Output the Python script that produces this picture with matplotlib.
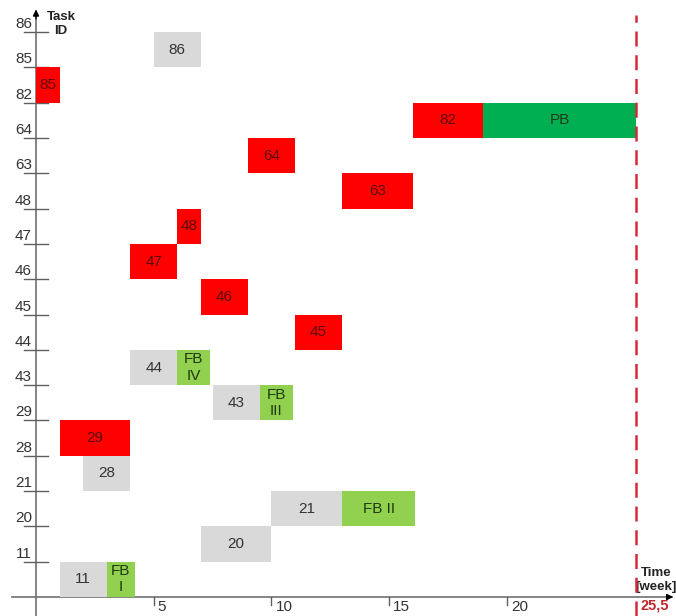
import matplotlib.pyplot as plt

plt.rcParams["font.family"] = ["Liberation Sans", "DejaVu Sans"]

# task ids on the y axis, bottom to top
row_labels = ["11", "20", "21", "28", "29", "43", "44", "45", "46", "47", "48", "63", "64", "82", "85", "86"]

# one entry per bar (weeks)
bar_rows = ["86", "85", "82", "82", "64", "63", "48", "47", "46", "45", "44", "44",
            "43", "43", "29", "28", "21", "21", "20", "11", "11"]
bar_start = [5, 0, 16, 19, 9, 13, 6, 4, 7, 11, 4, 6, 7.5, 9.5, 1, 2, 10, 13, 7, 1, 3]
bar_end = [7, 1, 19, 25.5, 11, 16, 7, 6, 9, 13, 6, 7.4, 9.5, 10.9, 4, 4, 13, 16.1, 10, 3, 4.2]
bar_text = ["86", "85", "82", "PB", "64", "63", "48", "47", "46", "45", "44", "FB\nIV",
            "43", "FB\nIII", "29", "28", "21", "FB II", "20", "11", "FB\nI"]
bar_kind = ["task", "critical", "critical", "project_buffer", "critical", "critical", "critical",
            "critical", "critical", "critical", "task", "feeding_buffer", "task", "feeding_buffer",
            "critical", "task", "task", "feeding_buffer", "task", "task", "feeding_buffer"]

x_ticks = [5, 10, 15, 20]
deadline = 25.5

fill = {"task": "#d9d9d9", "critical": "#ff0000", "feeding_buffer": "#92d050", "project_buffer": "#00b050"}
ink = {"task": "#333333", "critical": "#5c0a0a", "feeding_buffer": "#1f3a10", "project_buffer": "#1f3a1f"}

fig = plt.figure(figsize=(6.76, 6.16), dpi=100)
ax = fig.add_axes([0, 0, 1, 1])
ax.set_xlim(-1.529, 27.18)
ax.set_ylim(-0.538, 16.91)
ax.axis("off")

for row, start, end, text, kind in zip(bar_rows, bar_start, bar_end, bar_text, bar_kind):
    y = row_labels.index(row)
    ax.barh(y, end - start, left=start, height=1, align="edge", color=fill[kind], lw=0, zorder=2)
    ax.text((start + end) / 2, y + 0.5, text, ha="center", va="center", fontsize=11,
            color=ink[kind], zorder=3, linespacing=1.2)

# axes
ax.plot([-1.02, 27.0], [0, 0], color="#707070", lw=1.2, zorder=1)
ax.plot([0, 0], [-0.54, 16.6], color="#707070", lw=1.2, zorder=1)
ax.annotate("", xy=(0, 16.72), xytext=(0, 16.3),
            arrowprops=dict(arrowstyle="-|>", color="black", lw=1, mutation_scale=9))
ax.annotate("", xy=(27.18, 0), xytext=(26.8, 0),
            arrowprops=dict(arrowstyle="-|>", color="black", lw=1, mutation_scale=9))

for i, label in enumerate(row_labels):
    ax.plot([-0.51, 0.51], [i + 1, i + 1], color="#606060", lw=1, zorder=1)
    ax.text(-0.17, i + 1.03, label, ha="right", va="bottom", fontsize=11, color="#333333")

for t in x_ticks:
    ax.plot([t, t], [0, -0.22], color="#606060", lw=1, zorder=1)
    ax.text(t + 0.17, -0.09, str(t), ha="left", va="top", fontsize=11, color="#333333")

ax.plot([deadline, deadline], [-0.54, 16.49], color="#d42a3a", lw=1.8,
        dashes=(6, 3.5), zorder=4)

ax.text(1.06, 16.23, "Task\nID", ha="center", va="center", fontsize=9.5,
        fontweight="bold", color="#222222", linespacing=1.15)
ax.text(26.33, 0.48, "Time\n[week]", ha="center", va="center", fontsize=9.5,
        fontweight="bold", color="#222222", linespacing=1.15)
ax.text(26.28, -0.23, "25,5", ha="center", va="center", fontsize=10.5,
        fontweight="bold", color="#c0282e")

fig.savefig("out.png", dpi=100)
